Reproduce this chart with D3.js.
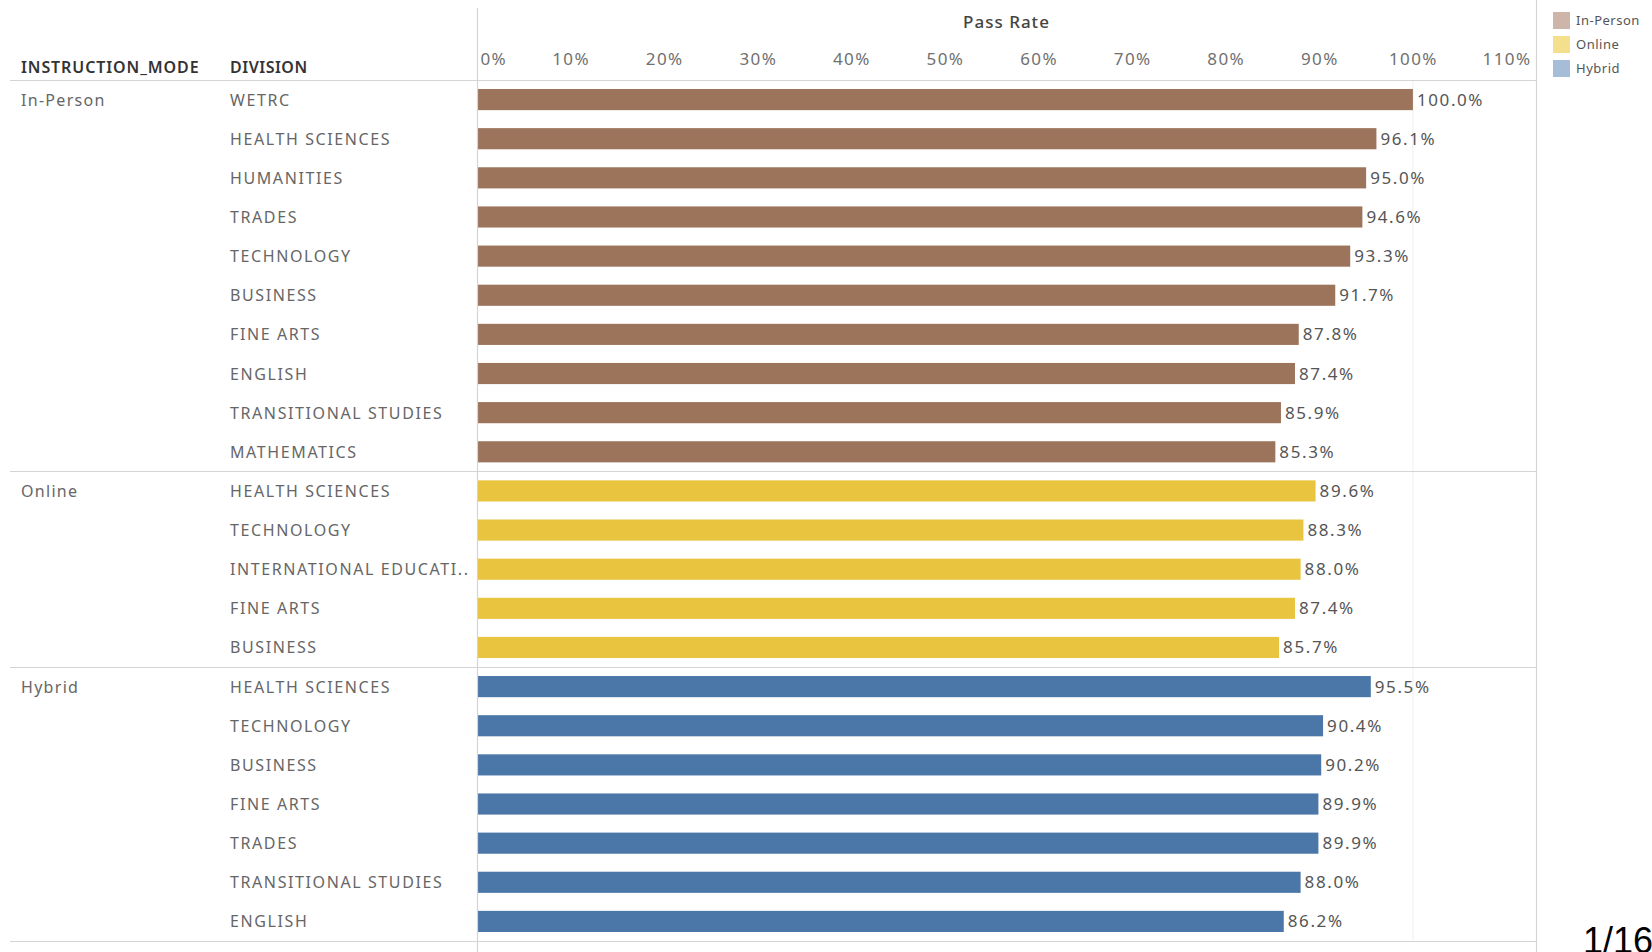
<!DOCTYPE html>
<html>
<head>
<meta charset="utf-8">
<script src="https://cdn.jsdelivr.net/npm/d3@7"></script>
<style>
  body { margin: 0; background: #fff; }
  svg { display: block; font-family: "Noto Sans", "Open Sans", sans-serif; }
</style>
</head>
<body>
<svg id="canvas" width="1652" height="952"></svg>
<script>
// data
let modes = ['In-Person', 'Online', 'Hybrid']
let inPersonDivisions = ['WETRC', 'HEALTH SCIENCES', 'HUMANITIES', 'TRADES', 'TECHNOLOGY', 'BUSINESS', 'FINE ARTS', 'ENGLISH', 'TRANSITIONAL STUDIES', 'MATHEMATICS']
let inPersonRates = [100.0, 96.1, 95.0, 94.6, 93.3, 91.7, 87.8, 87.4, 85.9, 85.3]
let onlineDivisions = ['HEALTH SCIENCES', 'TECHNOLOGY', 'INTERNATIONAL EDUCATI..', 'FINE ARTS', 'BUSINESS']
let onlineRates = [89.6, 88.3, 88.0, 87.4, 85.7]
let hybridDivisions = ['HEALTH SCIENCES', 'TECHNOLOGY', 'BUSINESS', 'FINE ARTS', 'TRADES', 'TRANSITIONAL STUDIES', 'ENGLISH']
let hybridRates = [95.5, 90.4, 90.2, 89.9, 89.9, 88.0, 86.2]
let tickValues = [0, 10, 20, 30, 40, 50, 60, 70, 80, 90, 100, 110]

let barColors = ['#9c745b', '#e9c43f', '#4b76a8']
let legendColors = ['#cdb6a9', '#f4df8c', '#a6bdd8']

let groups = [
    { mode: modes[0], divisions: inPersonDivisions, rates: inPersonRates },
    { mode: modes[1], divisions: onlineDivisions, rates: onlineRates },
    { mode: modes[2], divisions: hybridDivisions, rates: hybridRates }
]

let rows = []
groups.forEach((g, gi) => {
    g.divisions.forEach((d, i) => {
        rows.push({ key: g.mode + '|' + d, mode: g.mode, division: d, rate: g.rates[i], first: i === 0, gi: gi })
    })
})

let canvas = d3.select('#canvas')

let plotLeft = 477, plotRight = 1536, plotTop = 80, plotBottom = 941
let x = d3.scaleLinear().domain([0, 113.15]).range([plotLeft, plotRight])
let y = d3.scaleBand().domain(rows.map(r => r.key)).range([plotTop, plotBottom]).paddingInner(0.46).paddingOuter(0.23)
let step = y.step()

let color = d3.scaleOrdinal().domain(modes).range(barColors)

// faint line at 100%
canvas.append('line')
    .attr('x1', x(100)).attr('x2', x(100))
    .attr('y1', plotTop).attr('y2', plotBottom)
    .attr('stroke', '#efefef').attr('stroke-width', 1)

// axis (tick labels on top)
let axis = d3.axisTop(x)
    .tickValues(tickValues)
    .tickFormat(d => d + '%')
    .tickSize(0)
let axisG = canvas.append('g')
    .attr('transform', 'translate(0,' + 65 + ')')
    .call(axis)
axisG.select('.domain').remove()
axisG.selectAll('text')
    .attr('dy', 0)
    .attr('y', 0)
    .style('font-family', '"Noto Sans", sans-serif')
    .style('font-size', '17px')
    .style('letter-spacing', '1.4px')
    .attr('fill', '#707070')
    .attr('text-anchor', d => d === 0 ? 'start' : 'middle')
    .attr('x', d => d === 0 ? 3 : 0)

canvas.append('text')
    .attr('x', (plotLeft + plotRight) / 2)
    .attr('y', 28)
    .attr('text-anchor', 'middle')
    .attr('fill', '#444')
    .style('font-size', '17px')
    .style('letter-spacing', '1px')
    .style('font-weight', 500)
    .text('Pass Rate')

// headers
canvas.append('text').attr('x', 21).attr('y', 73).attr('fill', '#333')
    .style('font-size', '16px').style('font-weight', 600).style('letter-spacing', '0.9px')
    .text('INSTRUCTION_MODE')
canvas.append('text').attr('x', 230).attr('y', 73).attr('fill', '#333')
    .style('font-size', '16px').style('font-weight', 600).style('letter-spacing', '0.5px')
    .text('DIVISION')

// bars
canvas.selectAll('rect.bar')
    .data(rows)
    .enter()
    .append('rect')
    .attr('class', 'bar')
    .attr('x', x(0))
    .attr('y', r => y(r.key))
    .attr('width', r => x(r.rate) - x(0))
    .attr('height', y.bandwidth())
    .attr('fill', r => color(r.mode))

// value labels
canvas.selectAll('text.val')
    .data(rows)
    .enter()
    .append('text')
    .attr('class', 'val')
    .attr('x', r => x(r.rate) + 4)
    .attr('y', r => y(r.key) + y.bandwidth() / 2 + 6)
    .attr('fill', '#555')
    .style('font-size', '17px')
    .style('letter-spacing', '1.6px')
    .text(r => r.rate.toFixed(1) + '%')

// division labels
canvas.selectAll('text.div')
    .data(rows)
    .enter()
    .append('text')
    .attr('class', 'div')
    .attr('x', 230)
    .attr('y', r => y(r.key) + y.bandwidth() / 2 + 6)
    .attr('fill', '#666')
    .style('font-size', '16px')
    .style('letter-spacing', '1.6px')
    .text(r => r.division)

// mode labels
canvas.selectAll('text.mode')
    .data(rows.filter(r => r.first))
    .enter()
    .append('text')
    .attr('class', 'mode')
    .attr('x', 21)
    .attr('y', r => y(r.key) + y.bandwidth() / 2 + 6)
    .attr('fill', '#666')
    .style('font-size', '16px')
    .style('letter-spacing', '1.3px')
    .text(r => r.mode)

// horizontal separators: header line, group lines, bottom line
let sepY = [plotTop]
rows.forEach((r, i) => { if (r.first && i > 0) sepY.push(y(r.key) - step * 0.23 - 0.5) })
sepY.push(plotBottom)
canvas.selectAll('line.sep')
    .data(sepY)
    .enter()
    .append('line')
    .attr('class', 'sep')
    .attr('x1', 10).attr('x2', plotRight)
    .attr('y1', d => Math.round(d) + 0.5).attr('y2', d => Math.round(d) + 0.5)
    .attr('stroke', '#d4d4d4').attr('stroke-width', 1.2)

// vertical lines: axis zero and right pane border
canvas.append('line')
    .attr('x1', plotLeft + 0.5).attr('x2', plotLeft + 0.5)
    .attr('y1', 8).attr('y2', 952)
    .attr('stroke', '#d4d4d4').attr('stroke-width', 1.2)
canvas.append('line')
    .attr('x1', plotRight + 0.5).attr('x2', plotRight + 0.5)
    .attr('y1', 0).attr('y2', 952)
    .attr('stroke', '#d4d4d4').attr('stroke-width', 1.2)

// legend
let legend = canvas.selectAll('g.leg')
    .data(modes)
    .enter()
    .append('g')
    .attr('class', 'leg')
    .attr('transform', (d, i) => 'translate(1553,' + (12 + i * 24) + ')')
legend.append('rect')
    .attr('width', 17).attr('height', 17)
    .attr('fill', (d, i) => legendColors[i])
legend.append('text')
    .attr('x', 23).attr('y', 13)
    .attr('fill', '#555')
    .style('font-size', '13px')
    .style('letter-spacing', '0.5px')
    .text(d => d)

// page number
canvas.append('text')
    .attr('x', 1583).attr('y', 953)
    .attr('fill', '#000')
    .style('font-family', '"Liberation Sans", sans-serif')
    .style('font-size', '36px')
    .text('1/16')
</script>
</body>
</html>
